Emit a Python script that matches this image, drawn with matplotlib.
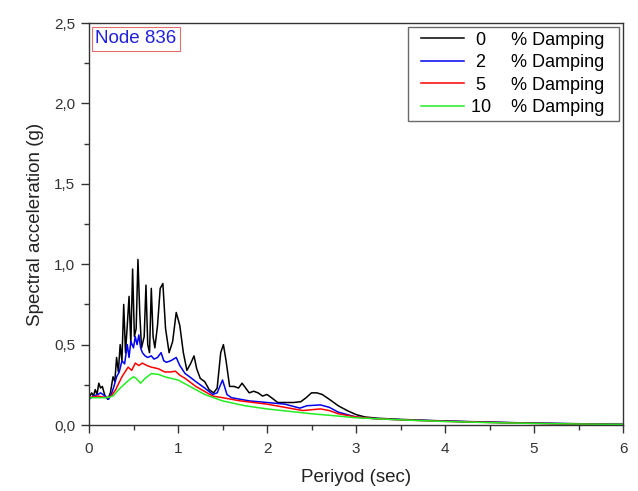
import matplotlib
matplotlib.use("Agg")
import matplotlib.pyplot as plt
from matplotlib.ticker import MultipleLocator, FuncFormatter
from matplotlib.lines import Line2D
from matplotlib.legend_handler import HandlerLine2D

plt.rcParams['font.family'] = ['Liberation Sans', 'DejaVu Sans']

# ---- data ----
x0 = [0, 0.03, 0.05, 0.07, 0.09, 0.11, 0.13, 0.15, 0.18, 0.21,
      0.24, 0.27, 0.29, 0.31, 0.33, 0.35, 0.37, 0.39, 0.41, 0.43,
      0.45, 0.47, 0.49, 0.51, 0.53, 0.55, 0.57, 0.59, 0.62, 0.64,
      0.66, 0.68, 0.70, 0.72, 0.74, 0.77, 0.80, 0.83, 0.86, 0.90,
      0.94, 0.98, 1.02, 1.06, 1.10, 1.14, 1.18, 1.21, 1.25, 1.30,
      1.35, 1.40, 1.44, 1.48, 1.51, 1.54, 1.58, 1.63, 1.68, 1.72,
      1.76, 1.80, 1.85, 1.90, 1.95, 2.00, 2.05, 2.12, 2.20, 2.30,
      2.38, 2.44, 2.50, 2.56, 2.62, 2.70, 2.80, 2.90, 3.00, 3.10,
      3.25, 3.5, 3.75, 4.0, 4.5, 5.0, 5.5, 6.0]
sa0 = [0.17, 0.20, 0.18, 0.22, 0.19, 0.26, 0.23, 0.24, 0.18, 0.16,
       0.20, 0.30, 0.27, 0.42, 0.33, 0.50, 0.40, 0.75, 0.45, 0.62,
       0.80, 0.50, 0.97, 0.55, 0.60, 1.03, 0.70, 0.48, 0.55, 0.87,
       0.50, 0.45, 0.85, 0.55, 0.48, 0.62, 0.85, 0.88, 0.60, 0.45,
       0.52, 0.70, 0.62, 0.45, 0.34, 0.38, 0.43, 0.35, 0.29, 0.27,
       0.22, 0.20, 0.23, 0.45, 0.50, 0.40, 0.24, 0.24, 0.23, 0.26,
       0.23, 0.20, 0.21, 0.20, 0.18, 0.19, 0.17, 0.14, 0.14, 0.14,
       0.145, 0.17, 0.20, 0.20, 0.19, 0.16, 0.12, 0.09, 0.065, 0.05,
       0.042, 0.035, 0.03, 0.025, 0.018, 0.012, 0.008, 0.004]

x2 = [0, 0.05, 0.10, 0.13, 0.18, 0.22, 0.25, 0.28, 0.31, 0.34,
      0.37, 0.40, 0.43, 0.45, 0.47, 0.50, 0.52, 0.54, 0.56, 0.58,
      0.60, 0.63, 0.66, 0.70, 0.73, 0.77, 0.81, 0.84, 0.87, 0.92,
      0.98, 1.02, 1.08, 1.13, 1.20, 1.30, 1.39, 1.44, 1.50, 1.55,
      1.60, 1.80, 2.00, 2.20, 2.37, 2.45, 2.60, 2.70, 2.80, 2.90,
      3.00, 3.2, 3.5, 4.0, 4.5, 5.0, 5.5, 6.0]
sa2 = [0.16, 0.18, 0.19, 0.20, 0.18, 0.16, 0.19, 0.24, 0.30, 0.33,
       0.40, 0.38, 0.50, 0.42, 0.52, 0.48, 0.55, 0.50, 0.56, 0.48,
       0.45, 0.43, 0.42, 0.43, 0.41, 0.42, 0.45, 0.40, 0.39, 0.40,
       0.42, 0.37, 0.32, 0.30, 0.27, 0.23, 0.19, 0.20, 0.28, 0.19,
       0.17, 0.15, 0.14, 0.13, 0.105, 0.12, 0.125, 0.11, 0.08, 0.065,
       0.05, 0.04, 0.033, 0.024, 0.017, 0.011, 0.007, 0.004]

x5 = [0, 0.1, 0.2, 0.25, 0.3, 0.37, 0.44, 0.48, 0.52, 0.56,
      0.6, 0.65, 0.7, 0.78, 0.85, 0.92, 0.97, 1.02, 1.08, 1.2,
      1.39, 1.5, 1.7, 2.0, 2.2, 2.4, 2.5, 2.6, 2.7, 2.8,
      3.0, 3.2, 3.5, 4.0, 4.5, 5.0, 5.5, 6.0]
sa5 = [0.17, 0.18, 0.17, 0.18, 0.22, 0.30, 0.36, 0.34, 0.385, 0.37,
       0.385, 0.37, 0.36, 0.35, 0.33, 0.33, 0.335, 0.31, 0.29, 0.24,
       0.18, 0.17, 0.15, 0.13, 0.11, 0.09, 0.095, 0.10, 0.09, 0.07,
       0.05, 0.04, 0.032, 0.023, 0.016, 0.01, 0.006, 0.003]

x10 = [0, 0.1, 0.2, 0.27, 0.35, 0.45, 0.5, 0.53, 0.58, 0.63,
       0.7, 0.78, 0.85, 1.0, 1.1, 1.3, 1.5, 1.75, 2.0, 2.25,
       2.5, 2.75, 3.0, 3.5, 4.0, 4.5, 5.0, 5.5, 6.0]
sa10 = [0.17, 0.17, 0.17, 0.18, 0.23, 0.28, 0.30, 0.29, 0.26, 0.29,
        0.32, 0.315, 0.30, 0.28, 0.25, 0.19, 0.15, 0.12, 0.10, 0.085,
        0.07, 0.058, 0.045, 0.032, 0.022, 0.015, 0.01, 0.006, 0.004]

labels = [" 0     % Damping  ", " 2     % Damping  ", " 5     % Damping  ", "10    % Damping  "]
colors = ["#000000", "#0000ee", "#ff0000", "#22ee22"]

fig = plt.figure(figsize=(6.38, 4.91), dpi=100)
ax = fig.add_axes([0.1395, 0.1344, 0.837, 0.8186])

for xs, ys, lab, c in zip([x0, x2, x5, x10], [sa0, sa2, sa5, sa10], labels, colors):
    ax.plot(xs, ys, color=c, lw=1.1, label=lab)

ax.set_xlim(0, 6)
ax.set_ylim(0, 2.5)
ax.xaxis.set_major_locator(MultipleLocator(1))
ax.xaxis.set_minor_locator(MultipleLocator(0.5))
ax.yaxis.set_major_locator(MultipleLocator(0.5))
ax.yaxis.set_minor_locator(MultipleLocator(0.25))
ax.yaxis.set_major_formatter(FuncFormatter(lambda v, p: f"{v:.1f}".replace('.', ',')))
ax.tick_params(which='major', direction='out', length=5.5, width=1, labelsize=11,
               colors='#333333')
ax.tick_params(axis='x', which='major', pad=6.5)
ax.tick_params(axis='y', which='major', pad=4.5)
ax.tick_params(which='minor', direction='out', length=3.5, width=1, colors='#333333')
for s in ax.spines.values():
    s.set_color('#333333')
    s.set_linewidth(1.0)

ax.set_xlabel("Periyod (sec)", fontsize=13.5, color='#222222', labelpad=9.5)
ax.set_ylabel("Spectral acceleration (g)", fontsize=13.5, color='#222222', labelpad=7)

ax.text(0.012, 0.982, "Node 836", transform=ax.transAxes, ha='left', va='top',
        fontsize=13.5, color='#2020dd',
        bbox=dict(boxstyle='square,pad=0.2', facecolor='white', edgecolor='#e07070', lw=0.8))

fs_leg = 13
leg = ax.legend(loc='upper right', fontsize=fs_leg, handlelength=2.82, frameon=True,
                fancybox=False, edgecolor='#444444', borderaxespad=0.2,
                handletextpad=0.4, labelspacing=0.3, borderpad=0.28,
                handler_map={Line2D: HandlerLine2D(xpad=0.43)})
leg.get_frame().set_linewidth(1.0)

fig.savefig("out.png", dpi=100)
